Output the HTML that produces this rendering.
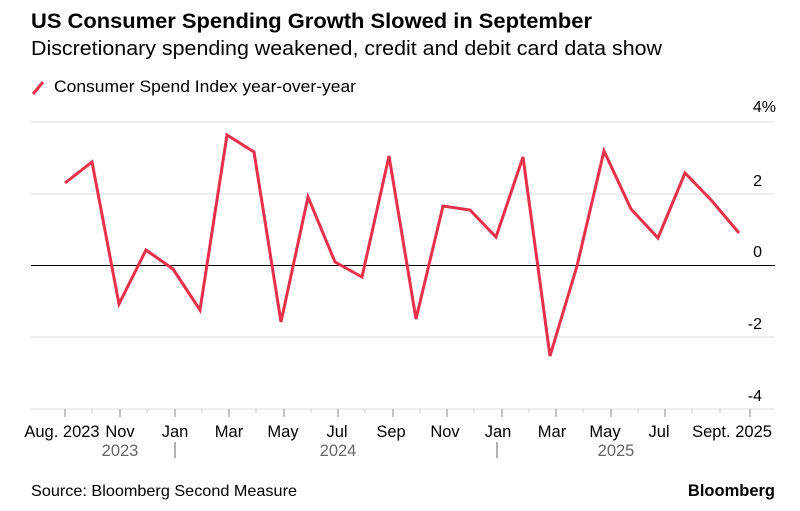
<!DOCTYPE html>
<html><head><meta charset="utf-8"><style>
body{margin:0;background:#fff;width:800px;height:506px;overflow:hidden;font-family:"Liberation Sans",sans-serif}
</style></head><body>
<svg width="800" height="506" xmlns="http://www.w3.org/2000/svg" font-family="Liberation Sans, sans-serif">
<text x="31" y="28" font-size="21.5" font-weight="bold" fill="#000" textLength="561" lengthAdjust="spacingAndGlyphs">US Consumer Spending Growth Slowed in September</text>
<text x="31" y="55" font-size="20" fill="#000" textLength="631" lengthAdjust="spacingAndGlyphs">Discretionary spending weakened, credit and debit card data show</text>
<line x1="33" y1="94" x2="43" y2="82" stroke="#e8304a" stroke-width="3"/>
<text x="54" y="92" font-size="17" fill="#000" textLength="302" lengthAdjust="spacingAndGlyphs">Consumer Spend Index year-over-year</text>
<g stroke="#ddd" stroke-width="1">
<line x1="31" y1="122" x2="775" y2="122"/>
<line x1="31" y1="194" x2="775" y2="194"/>
<line x1="31" y1="337" x2="775" y2="337"/>
<line x1="31" y1="409" x2="775" y2="409"/>
</g>
<line x1="31" y1="265.5" x2="775" y2="265.5" stroke="#000" stroke-width="1"/>
<g font-size="16" fill="#000" text-anchor="end">
<text x="776" y="112">4%</text>
<text x="762" y="186">2</text>
<text x="762" y="257">0</text>
<text x="762" y="329">-2</text>
<text x="762" y="401">-4</text>
</g>
<g stroke="#888" stroke-width="1">
<line x1="65" y1="409" x2="65" y2="417"/><line x1="120" y1="409" x2="120" y2="417"/><line x1="175" y1="409" x2="175" y2="417"/><line x1="229" y1="409" x2="229" y2="417"/><line x1="284" y1="409" x2="284" y2="417"/><line x1="338" y1="409" x2="338" y2="417"/><line x1="393" y1="409" x2="393" y2="417"/><line x1="447" y1="409" x2="447" y2="417"/><line x1="502" y1="409" x2="502" y2="417"/><line x1="556" y1="409" x2="556" y2="417"/><line x1="611" y1="409" x2="611" y2="417"/><line x1="665" y1="409" x2="665" y2="417"/><line x1="750" y1="409" x2="750" y2="417"/>
</g>
<g stroke="#ccc" stroke-width="1">
<line x1="92" y1="409" x2="92" y2="413"/><line x1="147" y1="409" x2="147" y2="413"/><line x1="202" y1="409" x2="202" y2="413"/><line x1="256" y1="409" x2="256" y2="413"/><line x1="311" y1="409" x2="311" y2="413"/><line x1="365" y1="409" x2="365" y2="413"/><line x1="420" y1="409" x2="420" y2="413"/><line x1="474" y1="409" x2="474" y2="413"/><line x1="529" y1="409" x2="529" y2="413"/><line x1="583" y1="409" x2="583" y2="413"/><line x1="638" y1="409" x2="638" y2="413"/><line x1="692" y1="409" x2="692" y2="413"/><line x1="720" y1="409" x2="720" y2="413"/>
</g>
<g font-size="16.5" fill="#000" text-anchor="middle">
<text x="62" y="437">Aug. 2023</text>
<text x="120" y="437">Nov</text>
<text x="175" y="437">Jan</text>
<text x="229" y="437">Mar</text>
<text x="283" y="437">May</text>
<text x="337" y="437">Jul</text>
<text x="391" y="437">Sep</text>
<text x="445" y="437">Nov</text>
<text x="498" y="437">Jan</text>
<text x="552" y="437">Mar</text>
<text x="605" y="437">May</text>
<text x="659" y="437">Jul</text>
<text x="732" y="437">Sept. 2025</text>
</g>
<g font-size="16.5" fill="#666" text-anchor="middle">
<text x="120" y="456">2023</text>
<text x="338" y="456">2024</text>
<text x="616" y="456">2025</text>
</g>
<line x1="175" y1="442" x2="175" y2="458" stroke="#666"/>
<line x1="497" y1="442" x2="497" y2="458" stroke="#666"/>
<polyline fill="none" stroke="#e8304a" stroke-width="3" stroke-linejoin="miter" points="65,183 92,162 119,304 146,250 173,269 200,310 227,135 254,152 281,322 308,197 335,262 362,277 389,156 416,319 443,206 470,210 496,237 523,157 550,356 577,266 604,151 631,209 658,238 685,173 712,201 739,233"/>
<text x="31" y="496" font-size="16" fill="#000" textLength="266" lengthAdjust="spacingAndGlyphs">Source: Bloomberg Second Measure</text>
<text x="775" y="496" font-size="16.5" font-weight="bold" fill="#000" text-anchor="end">Bloomberg</text>
</svg>
</body></html>
